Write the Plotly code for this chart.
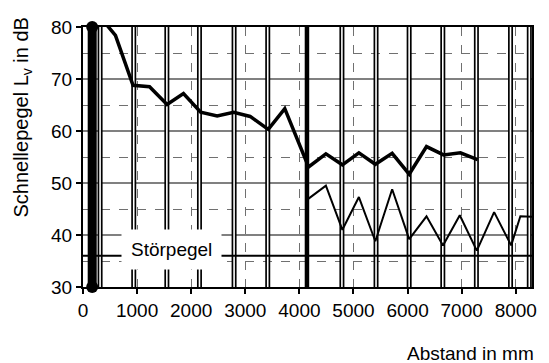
import plotly.graph_objects as go

# Data
upper_x = [350, 600, 925, 1230, 1554, 1857, 2175, 2480, 2785, 3090, 3425, 3730,
           4170, 4490, 4795, 5100, 5404, 5715, 6030, 6350, 6665, 6977, 7294]
upper_y = [81.5, 78.4, 68.8, 68.5, 65.1, 67.2, 63.6, 62.9, 63.6, 62.8, 60.3, 64.3,
           53.1, 55.6, 53.5, 55.8, 53.6, 55.7, 51.7, 57.0, 55.4, 55.8, 54.5]
lower_x = [4170, 4490, 4795, 5100, 5404, 5715, 6030, 6350, 6655, 6965, 7280,
           7600, 7915, 8085, 8300]
lower_y = [47.0, 49.5, 41.0, 47.3, 38.8, 48.8, 39.2, 43.6, 38.0, 43.8, 37.0,
           44.4, 38.0, 43.6, 43.5]
double_lines_x = [316, 938, 1550, 2153, 2793, 3415, 4786, 5417, 6029, 6651,
                  7272, 7903, 8250]
thick_bars_x = [170, 4140]
stoerpegel = 36
x_ticks = [0, 1000, 2000, 3000, 4000, 5000, 6000, 7000, 8000]
y_ticks = [30, 40, 50, 60, 70, 80]
x_range = [0, 8300]
y_range = [30, 80]

FONT = "Liberation Sans, Arial, sans-serif"

def vlines(xs):
    vx, vy = [], []
    for x in xs:
        vx += [x, x, None]
        vy += [y_range[0], y_range[1], None]
    return vx, vy

fig = go.Figure()

# double vertical lines: black wide + white thin center
dx, dy = vlines(double_lines_x)
fig.add_trace(go.Scatter(x=dx, y=dy, mode="lines", line=dict(color="black", width=5),
                         hoverinfo="skip", showlegend=False))
fig.add_trace(go.Scatter(x=dx, y=dy, mode="lines", line=dict(color="white", width=1.6),
                         hoverinfo="skip", showlegend=False))

# Störpegel line
fig.add_trace(go.Scatter(x=x_range, y=[stoerpegel, stoerpegel], mode="lines",
                         line=dict(color="black", width=2), hoverinfo="skip", showlegend=False))

# thick bars
fig.add_trace(go.Scatter(x=[thick_bars_x[0], thick_bars_x[0]], y=y_range, mode="lines+markers",
                         line=dict(color="black", width=9), marker=dict(size=12, color="black"),
                         cliponaxis=False, hoverinfo="skip", showlegend=False))
fig.add_trace(go.Scatter(x=[thick_bars_x[1], thick_bars_x[1]], y=y_range, mode="lines",
                         line=dict(color="black", width=4.5), hoverinfo="skip", showlegend=False))

# data curves
fig.add_trace(go.Scatter(x=upper_x, y=upper_y, mode="lines",
                         line=dict(color="black", width=3.5), showlegend=False))
fig.add_trace(go.Scatter(x=lower_x, y=lower_y, mode="lines",
                         line=dict(color="black", width=2), showlegend=False))

fig.add_annotation(x=1632, y=37.3, xref="x", yref="y", text="Störpegel", showarrow=False,
                   bgcolor="white", borderpad=9, font=dict(family=FONT, size=19, color="black"))
fig.add_annotation(x=1.01, y=-0.255, xref="paper", yref="paper", text="Abstand in mm",
                   showarrow=False, xanchor="right", yanchor="middle",
                   font=dict(family=FONT, size=19, color="black"))
fig.add_annotation(x=-0.134, y=0.655, xref="paper", yref="paper",
                   text="Schnellepegel L<sub>v</sub> in dB", textangle=-90, showarrow=False,
                   xanchor="center", yanchor="middle",
                   font=dict(family=FONT, size=20, color="black"))

fig.update_layout(
    width=549, height=363,
    margin=dict(l=83, r=12, t=27, b=76),
    paper_bgcolor="white", plot_bgcolor="white",
    font=dict(family=FONT, size=19, color="black"),
    xaxis=dict(range=x_range, tickvals=x_ticks, ticks="outside", ticklen=5, tickwidth=2,
               tickcolor="black", showline=True, linecolor="black", linewidth=2, mirror=True,
               showgrid=True, gridcolor="#707070", gridwidth=1, griddash="dash",
               zeroline=False, tickfont=dict(family=FONT, size=19)),
    yaxis=dict(range=y_range, tickvals=y_ticks, ticks="outside", ticklen=5, tickwidth=2,
               tickcolor="black", showline=True, linecolor="black", linewidth=2, mirror=True,
               showgrid=True, gridcolor="#808080", gridwidth=1.5, zeroline=False,
               minor=dict(dtick=5, tick0=35, showgrid=True, gridcolor="#707070",
                          gridwidth=1, griddash="dash", ticks=""),
               tickfont=dict(family=FONT, size=19)),
)

fig.write_html("out.html", config={"displayModeBar": False},
               post_script="document.body.style.margin='0';")
